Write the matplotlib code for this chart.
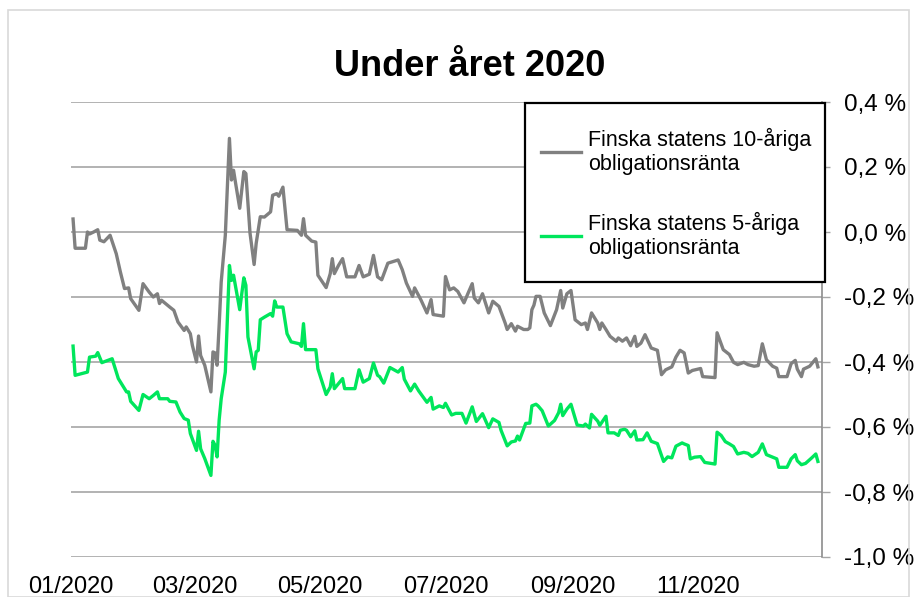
import numpy as np
import pandas as pd
import matplotlib
matplotlib.use("Agg")
import matplotlib.pyplot as plt
import matplotlib.dates as mdates
from matplotlib.patches import Rectangle

plt.rcParams['font.family'] = ['Liberation Sans', 'DejaVu Sans']

# days since 2020-01-01 and yields (%)
days_10y = [1, 2, 7, 8, 9, 11, 13, 14, 16, 19, 22, 24, 26, 28, 29, 33, 35, 38, 40, 42,
            43, 44, 48, 50, 52, 55, 56, 58, 59, 61, 62, 63, 65, 68, 69, 70, 71, 72, 73, 75,
            77, 78, 79, 80, 82, 84, 85, 87, 89, 90, 92, 94, 97, 98, 100, 101, 103, 105, 110, 112,
            113, 114, 117, 119, 120, 124, 126, 127, 128, 130, 132, 134, 138, 140, 142, 145, 147, 149, 151, 154,
            159, 161, 163, 166, 167, 170, 173, 175, 176, 179, 181, 182, 184, 186, 188, 191, 193, 195, 196, 198,
            200, 203, 205, 208, 211, 212, 214, 216, 217, 220, 222, 223, 224, 225, 226, 228, 230, 233, 236, 238,
            239, 241, 243, 245, 248, 250, 251, 253, 256, 257, 258, 260, 262, 265, 266, 268, 270, 272, 274, 275,
            277, 279, 282, 285, 287, 289, 292, 294, 296, 298, 300, 302, 306, 307, 313, 314, 317, 320, 322, 324,
            327, 329, 332, 334, 336, 338, 341, 343, 344, 348, 350, 352, 353, 355, 356, 359, 362, 363]
yield_10y = [0.04, -0.05, -0.05, 0.0, -0.006, 0.0, 0.007, -0.025, -0.03, -0.01, -0.067, -0.123, -0.174, -0.172, -0.205, -0.241, -0.159, -0.185, -0.2, -0.19,
             -0.22, -0.21, -0.231, -0.241, -0.277, -0.303, -0.292, -0.313, -0.349, -0.4, -0.32, -0.38, -0.41, -0.492, -0.369, -0.372, -0.41, -0.287, -0.154, -0.01,
             0.288, 0.16, 0.19, 0.15, 0.073, 0.186, 0.18, -0.003, -0.1, -0.035, 0.047, 0.046, 0.062, 0.113, 0.118, 0.11, 0.138, 0.007, 0.005, -0.01,
             0.041, -0.01, -0.028, -0.031, -0.133, -0.171, -0.128, -0.082, -0.128, -0.103, -0.082, -0.138, -0.138, -0.103, -0.138, -0.13, -0.072, -0.138, -0.147, -0.096,
             -0.086, -0.116, -0.157, -0.198, -0.172, -0.208, -0.249, -0.208, -0.254, -0.257, -0.259, -0.137, -0.178, -0.172, -0.183, -0.218, -0.188, -0.159, -0.203, -0.218,
             -0.19, -0.249, -0.213, -0.229, -0.28, -0.3, -0.282, -0.305, -0.29, -0.3, -0.3, -0.295, -0.239, -0.225, -0.198, -0.198, -0.249, -0.288, -0.239, -0.18,
             -0.234, -0.19, -0.18, -0.27, -0.285, -0.28, -0.3, -0.249, -0.28, -0.3, -0.28, -0.3, -0.321, -0.336, -0.326, -0.336, -0.326, -0.35, -0.321, -0.352,
             -0.342, -0.316, -0.357, -0.364, -0.439, -0.424, -0.415, -0.385, -0.364, -0.372, -0.434, -0.426, -0.42, -0.445, -0.448, -0.31, -0.362, -0.377, -0.401, -0.408,
             -0.401, -0.408, -0.413, -0.411, -0.344, -0.393, -0.413, -0.419, -0.445, -0.445, -0.405, -0.395, -0.422, -0.445, -0.422, -0.413, -0.39, -0.415]

days_5y = [1, 2, 8, 9, 12, 13, 15, 20, 23, 27, 28, 29, 33, 35, 38, 40, 42, 43, 47, 48,
           51, 53, 55, 57, 58, 61, 62, 63, 65, 68, 69, 70, 71, 72, 73, 75, 77, 78, 79, 82,
           84, 85, 86, 89, 90, 91, 92, 94, 97, 98, 99, 100, 103, 105, 107, 111, 112, 113, 114, 119,
           120, 124, 126, 127, 128, 132, 133, 138, 140, 142, 145, 147, 149, 150, 152, 155, 159, 161, 162, 165,
           167, 169, 173, 175, 176, 179, 181, 182, 185, 187, 190, 192, 195, 197, 200, 203, 205, 208, 209, 212,
           214, 216, 217, 218, 221, 223, 224, 226, 227, 229, 232, 235, 237, 238, 239, 241, 243, 246, 249, 250,
           252, 253, 256, 257, 260, 261, 264, 266, 267, 269, 270, 272, 274, 275, 278, 280, 282, 285, 288, 290,
           292, 294, 297, 298, 300, 301, 303, 306, 308, 313, 314, 316, 318, 320, 322, 324, 327, 329, 331, 334,
           336, 338, 341, 343, 344, 348, 350, 352, 353, 355, 357, 360, 362, 363]
yield_5y = [-0.351, -0.441, -0.431, -0.385, -0.382, -0.371, -0.402, -0.39, -0.451, -0.492, -0.492, -0.521, -0.549, -0.5, -0.513, -0.503, -0.492, -0.513, -0.513, -0.521,
            -0.523, -0.554, -0.574, -0.579, -0.62, -0.672, -0.613, -0.667, -0.697, -0.749, -0.644, -0.656, -0.692, -0.579, -0.513, -0.431, -0.103, -0.149, -0.133, -0.239,
            -0.141, -0.164, -0.323, -0.421, -0.369, -0.364, -0.27, -0.262, -0.251, -0.259, -0.212, -0.231, -0.231, -0.313, -0.338, -0.344, -0.352, -0.282, -0.362, -0.362,
            -0.421, -0.5, -0.477, -0.436, -0.482, -0.451, -0.482, -0.482, -0.424, -0.462, -0.451, -0.403, -0.441, -0.445, -0.465, -0.417, -0.431, -0.417, -0.453, -0.489,
            -0.468, -0.489, -0.524, -0.509, -0.545, -0.535, -0.54, -0.527, -0.563, -0.558, -0.558, -0.588, -0.538, -0.583, -0.559, -0.602, -0.575, -0.586, -0.61, -0.658,
            -0.646, -0.643, -0.628, -0.64, -0.589, -0.588, -0.535, -0.53, -0.535, -0.55, -0.597, -0.58, -0.556, -0.53, -0.565, -0.545, -0.53, -0.594, -0.597, -0.591,
            -0.603, -0.561, -0.582, -0.595, -0.567, -0.618, -0.618, -0.626, -0.61, -0.607, -0.61, -0.63, -0.612, -0.64, -0.639, -0.618, -0.644, -0.651, -0.706, -0.692,
            -0.695, -0.659, -0.649, -0.652, -0.657, -0.698, -0.693, -0.691, -0.709, -0.714, -0.616, -0.626, -0.645, -0.652, -0.66, -0.683, -0.678, -0.681, -0.691, -0.678,
            -0.652, -0.685, -0.693, -0.698, -0.724, -0.724, -0.698, -0.685, -0.704, -0.716, -0.712, -0.695, -0.683, -0.706]

labels = ["Finska statens 10-åriga\nobligationsränta", "Finska statens 5-åriga\nobligationsränta"]
y_ticks = [0.4, 0.2, 0.0, -0.2, -0.4, -0.6, -0.8, -1.0]

GRAY = "#808080"
GREEN = "#00E65C"
GRID = "#a6a6a6"

start = pd.Timestamp("2020-01-01")
d10 = start + pd.to_timedelta(days_10y, unit="D")
d5 = start + pd.to_timedelta(days_5y, unit="D")

W, H = 916, 597
fig = plt.figure(figsize=(W / 100, H / 100), dpi=100)

# outer chart frame
fig.patches.append(Rectangle((8 / W, 0), (909 - 8) / W, 1 - 10 / H, transform=fig.transFigure,
                             fill=False, edgecolor="#d9d9d9", linewidth=1.2))

ax = fig.add_axes([71 / W, 1 - 557 / H, 751 / W, 455 / H])
ax.plot(d10, yield_10y, color=GRAY, lw=2.4, label=labels[0], solid_joinstyle="round")
ax.plot(d5, yield_5y, color=GREEN, lw=2.4, label=labels[1], solid_joinstyle="round")

ax.set_xlim(pd.Timestamp("2020-01-01"), pd.Timestamp("2020-12-31"))
ax.set_ylim(-1.0, 0.4)
ax.set_yticks(y_ticks)
ax.set_yticklabels([f"{v:.1f} %".replace(".", ",") for v in y_ticks])
ax.yaxis.tick_right()
ax.tick_params(axis="y", length=6, width=1, color=GRID, pad=10, labelsize=17.5)
ax.xaxis.set_major_locator(mdates.MonthLocator(bymonth=[1, 3, 5, 7, 9, 11]))
ax.xaxis.set_major_formatter(mdates.DateFormatter("%m/%Y"))
ax.tick_params(axis="x", length=0, pad=14, labelsize=17)

for s in ["left", "top", "bottom"]:
    ax.spines[s].set_visible(False)
ax.spines["right"].set_color("#8c8c8c")
ax.spines["right"].set_linewidth(1.2)
ax.grid(axis="y", color=GRID, lw=1.2)
ax.set_axisbelow(True)

# legend box
fig.patches.append(Rectangle((525 / W, 1 - 282 / H), 300 / W, 179 / H, transform=fig.transFigure,
                             fill=True, facecolor="white", edgecolor="black", linewidth=1.6, zorder=5))
leg = fig.legend(loc="upper left", bbox_to_anchor=(541 / W, 1 - 128 / H), frameon=False,
                 fontsize=15.5, handlelength=1.85, handletextpad=0.33, labelspacing=1.7,
                 borderpad=0, borderaxespad=0)
leg.set_zorder(6)

fig.text(470 / W, 1 - 66 / H, "Under året 2020", ha="center", va="center",
         fontsize=26, fontweight="bold")

fig.savefig("out.png", dpi=100)
